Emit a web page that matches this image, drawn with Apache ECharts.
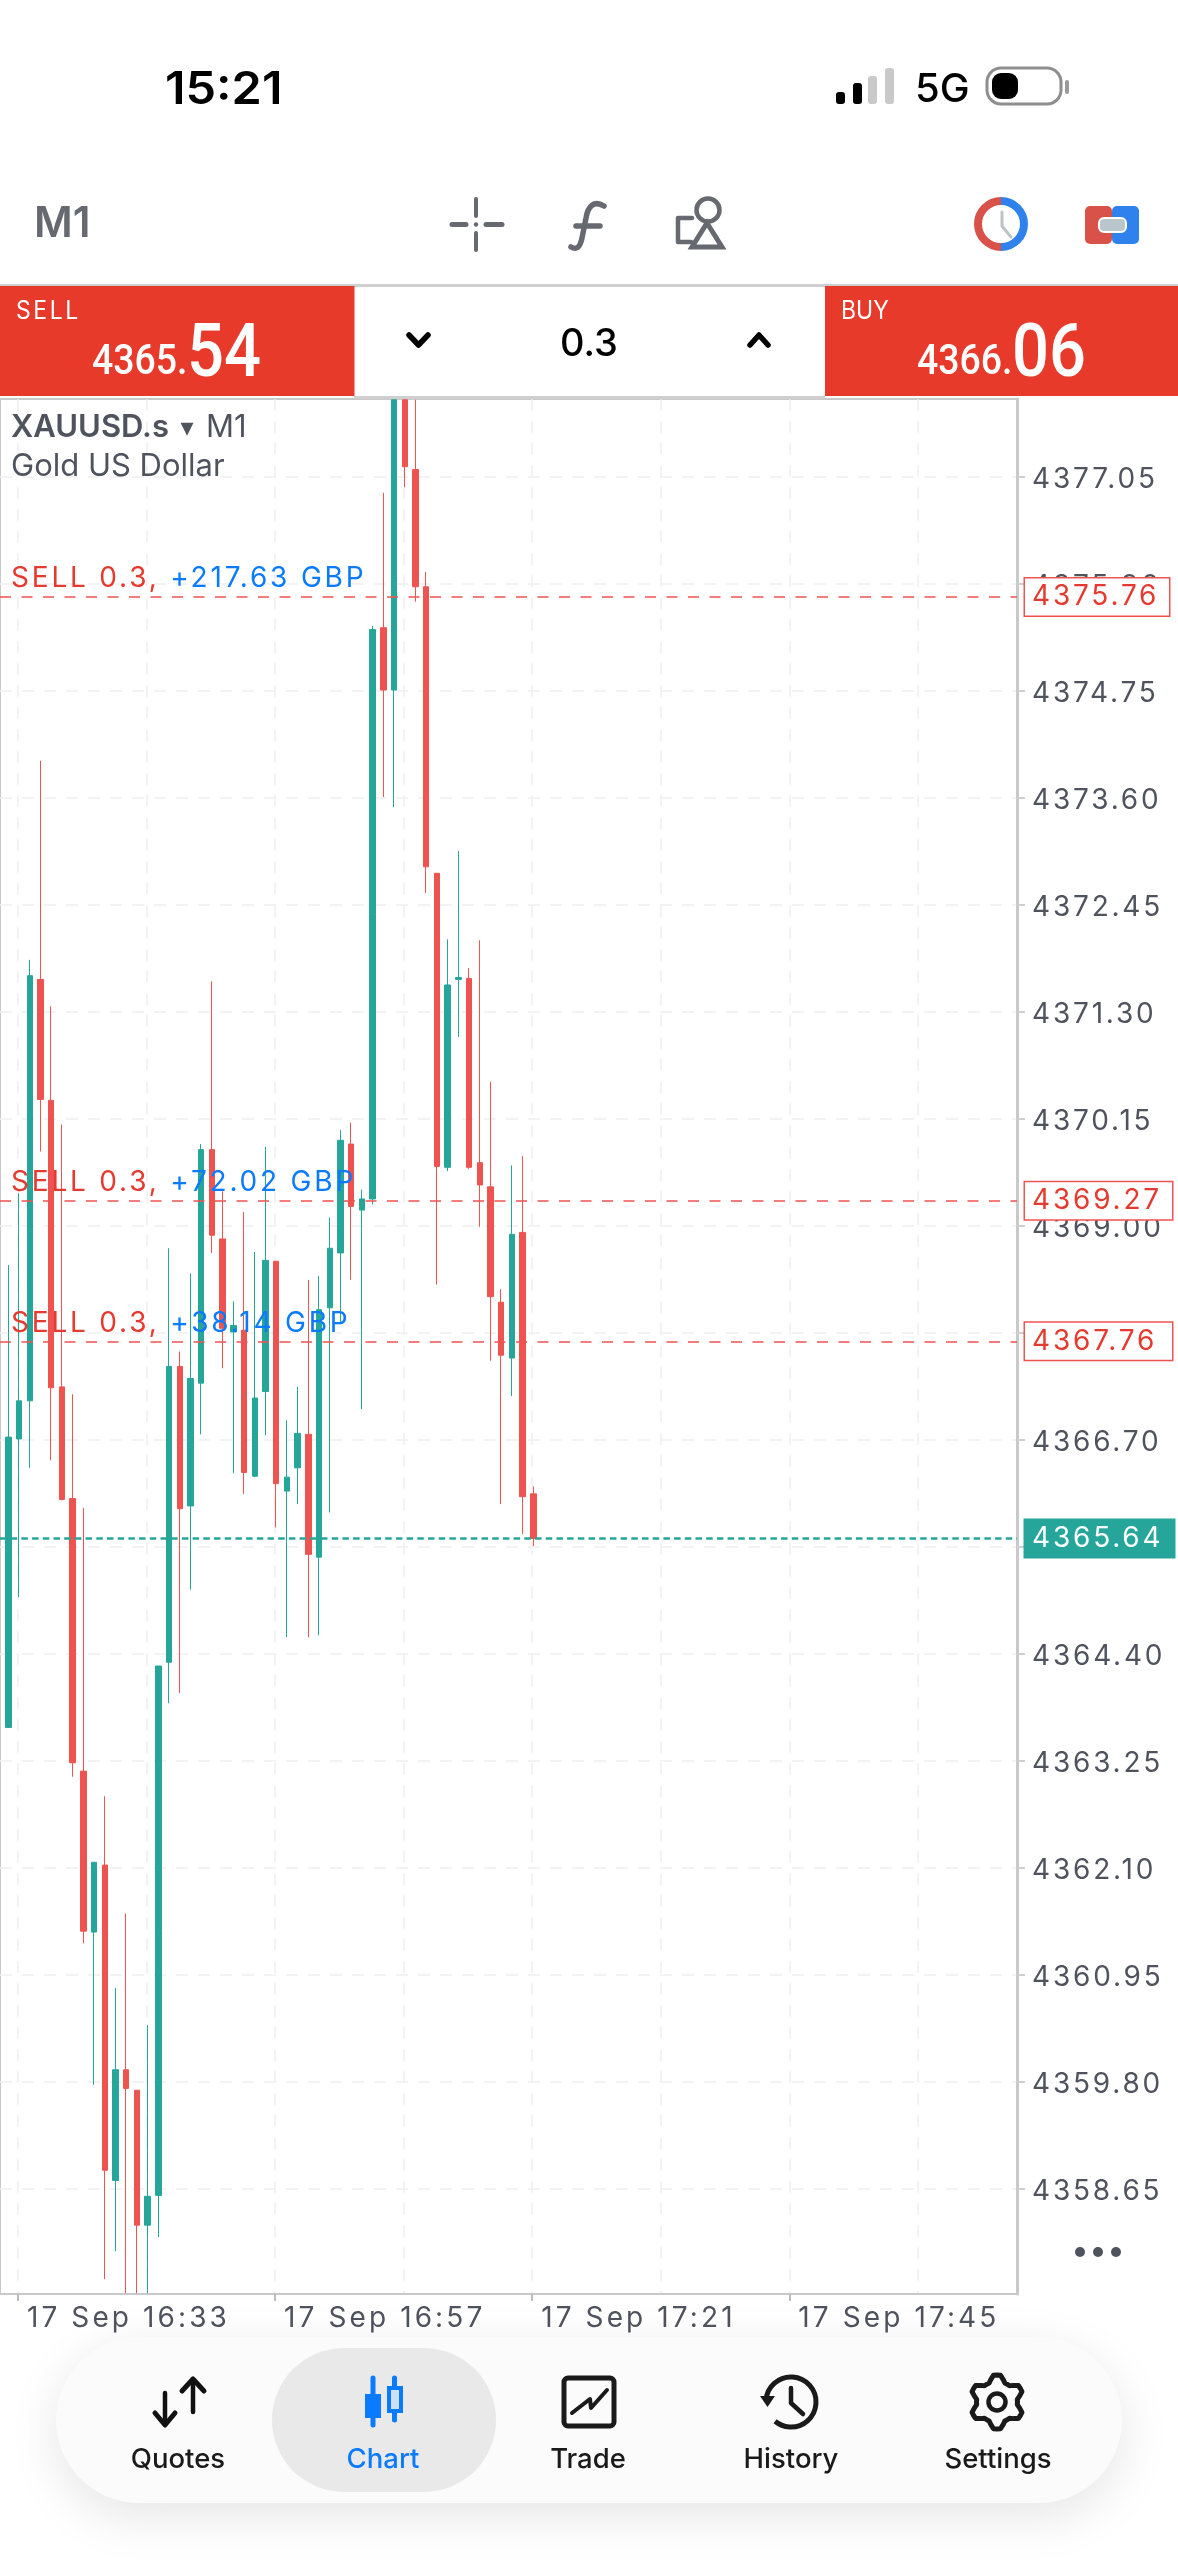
<!DOCTYPE html>
<html><head><meta charset="utf-8">
<style>html,body{margin:0;padding:0;background:#fff}#c{width:1178px;height:2560px}</style>
<script src="https://cdn.jsdelivr.net/npm/echarts@6/dist/echarts.min.js"></script>
</head><body><div id="c"></div>
<script>
// ---- data (marks cut by the plot edge are held at the edge value) ----
const firstMinute = 992; // 16:32, minutes of the day
const opens  = [4363.61,4366.71,4367.12,4371.65,4370.35,4367.27,4366.07,4363.14,4361.41,4362.13,4358.74,4359.93,4359.71,4358.26,4358.58,4364.31,4367.49,4365.99,4367.31,4369.82,4368.86,4367.86,4367.88,4366.31,4367.22,4368.62,4366.15,4366.40,4366.76,4365.44,4368.12,4368.71,4369.88,4369.17,4369.29,4375.43,4374.76,4377.88,4377.13,4375.87,4372.79,4369.63,4371.65,4371.66,4369.68,4369.42,4368.18,4367.58,4368.93,4366.12];
const closes = [4366.73,4367.12,4371.69,4370.36,4367.26,4366.06,4363.23,4361.42,4362.16,4358.85,4359.93,4359.73,4358.26,4358.57,4364.27,4367.49,4365.96,4367.36,4369.82,4368.90,4367.90,4367.93,4366.35,4367.15,4368.63,4366.23,4366.30,4366.77,4365.47,4368.10,4368.76,4369.92,4369.21,4369.29,4375.41,4374.76,4377.88,4377.16,4375.87,4372.86,4369.64,4371.59,4371.67,4369.63,4369.44,4368.24,4367.61,4368.91,4366.09,4365.64];
const lows   = [4363.61,4365.01,4366.40,4369.80,4366.48,4366.05,4363.08,4361.29,4359.77,4357.68,4357.98,4357.53,4357.53,4357.53,4358.13,4363.87,4363.98,4365.09,4366.76,4368.71,4367.47,4366.34,4366.12,4366.30,4366.75,4365.76,4364.58,4366.01,4364.58,4364.60,4365.92,4367.97,4368.42,4367.03,4369.23,4373.61,4373.50,4376.94,4375.71,4372.58,4368.37,4369.59,4371.03,4369.61,4368.99,4367.55,4366.01,4367.17,4365.69,4365.56];
const highs  = [4368.58,4369.35,4371.86,4374.00,4371.36,4370.09,4367.19,4365.97,4362.16,4362.87,4360.81,4361.61,4359.71,4360.41,4364.27,4368.76,4367.65,4368.49,4369.88,4371.63,4369.37,4368.19,4369.15,4368.72,4369.85,4368.62,4366.91,4367.27,4368.42,4368.46,4369.09,4370.03,4370.11,4369.39,4375.45,4376.88,4377.88,4377.88,4377.88,4376.03,4372.79,4372.08,4373.03,4371.77,4372.07,4370.55,4368.32,4369.65,4369.75,4366.20];
const priceTicks = [4358.65,4359.80,4360.95,4362.10,4363.25,4364.40,4365.55,4366.70,4367.85,4369.00,4370.15,4371.30,4372.45,4373.60,4374.75,4375.90,4377.05];
const timeTickMinutes = [993,1017,1041,1065];
const timeTickLabels = ['17 Sep 16:33','17 Sep 16:57','17 Sep 17:21','17 Sep 17:45'];
const gridMinutes = [993,1005,1017,1029,1041,1053,1065,1077];
const orderPrices = [4375.76,4369.27,4367.76];
const orderLabels = ['SELL 0.3, ','SELL 0.3, ','SELL 0.3, '];
const orderProfits = ['+217.63 GBP','+72.02 GBP','+38.14 GBP'];
const lastPrice = 4365.64;
const navItems = ['Quotes','Chart','Trade','History','Settings'];

// letter-spaced chart texts (the app's labels are tracked out)
const track = t => /^17 Sep/.test(t) ? '3.1px' : /^(\d{4}\.\d\d|SELL.*|\+.*)$/.test(t) ? '2.8px' : '0px';
const P = CanvasRenderingContext2D.prototype, fT = P.fillText, mT = P.measureText;
P.fillText = function(t,x,y,m){ this.letterSpacing = track(t); return m===undefined?fT.call(this,t,x,y):fT.call(this,t,x,y,m); };
P.measureText = function(t){ this.letterSpacing = track(t); return mT.call(this,t); };

const TEAL='#26a69a', RED='#ef5350', ORDER='#e53a30', BLUE='#0a7aff', GREY='#666a70', TXT='#4f535e', HDR='#e83a2a';
const chart = echarts.init(document.getElementById('c'),null,{renderer:'canvas',width:1178,height:2560});
const L=0,T=399,W=1017,H=1895;
const candles = opens.map((o,i)=>[firstMinute+i,o,closes[i],lows[i],highs[i]]);
const AXLINE='#c9c9c9', SPLIT='#f0f0f0';

function tx(text,x,y,size,fill,o){o=o||{};return {type:'text',x,y,z:o.z||50,scaleX:o.sx||1,style:{text,font:(o.w||400)+' '+size+'px '+(o.f||'Inter'),fill,textAlign:o.a||'left',textVerticalAlign:'middle',align:o.a||'left',verticalAlign:'middle'}};}
function rr(x,y,w,h,r,fill,o){o=o||{};return {type:'rect',z:o.z||40,shape:{x,y,width:w,height:h,r},style:Object.assign({fill},o.style||{})};}
function pl(points,stroke,lw,z){return {type:'polyline',z:z||50,shape:{points},style:{stroke,lineWidth:lw,fill:'none',lineCap:'round',lineJoin:'round'}};}

const gear=[];(function(){const cx=997,cy=2402;for(let i=0;i<48;i++){const a=i/48*Math.PI*2-Math.PI/2,ph=(i%8);const r=(ph<=1||ph===7)?27:(ph===2||ph===6)?23.5:20.5;gear.push([cx+r*Math.cos(a),cy+r*Math.sin(a)]);}})();

const chrome=[
 // status bar
 tx('15:21',165,90,45,'#000',{w:600,sx:1.08}),
 rr(836,92,9,12,3,'#000'),rr(853,83,9,21,3,'#000'),rr(868,76,9,28,3,'#c9c9c9'),rr(885,68,9,36,3,'#c9c9c9'),
 tx('5G',915,90,40,'#000',{w:500}),
 {type:'rect',z:40,shape:{x:987,y:68,width:74,height:36,r:14},style:{fill:'#fff',stroke:'#8e8e8e',lineWidth:3}},
 rr(992,73,26,26,9,'#000'),rr(1065,80,4,14,2,'#9a9a9a'),
 // toolbar
 tx('M1',34,224,42,GREY,{w:600}),
 pl([[476,199],[476,216]],GREY,4),pl([[476,233],[476,250]],GREY,4),pl([[452,224.5],[466,224.5]],GREY,5),pl([[486,224.5],[502,224.5]],GREY,5),
 {type:'circle',z:50,shape:{cx:476,cy:224.5,r:2.2},style:{fill:GREY}},
 {type:'ficon',z:50,style:{fill:'none',stroke:GREY,lineWidth:5.5,lineCap:'round'}},
 {type:'circle',z:50,shape:{cx:708,cy:210,r:11.5},style:{fill:'none',stroke:GREY,lineWidth:4.5}},
 {type:'polygon',z:50,shape:{points:[[707,223],[722,247],[692,247]]},style:{fill:'none',stroke:GREY,lineWidth:5,lineJoin:'miter'}},
 pl([[692,218],[678,218],[678,242],[691,242]],GREY,4.5),
 {type:'arc',z:50,shape:{cx:1001,cy:224,r:23,startAngle:Math.PI/2,endAngle:Math.PI*1.5},style:{fill:'none',stroke:'#d9524a',lineWidth:8}},
 {type:'arc',z:50,shape:{cx:1001,cy:224,r:23,startAngle:-Math.PI/2,endAngle:Math.PI/2},style:{fill:'none',stroke:'#2f82ee',lineWidth:8}},
 pl([[1002,212],[1002,226],[1011,237]],'#bcc4c6',3),
 rr(1085,206,27,38,5,'#d9524a'),rr(1112,206,27,38,5,'#2f82ee'),
 {type:'rect',z:50,shape:{x:1099,y:218,width:27,height:14,r:5},style:{fill:'#b9c6cb',stroke:'#fff',lineWidth:2}},
 // price bar
 rr(0,284,1178,3,0,'#cfcfcf'),rr(354,396,471,3,0,'#cfcfcf'),
 rr(0,286,354.5,110,0,HDR),rr(825,286,353,110,0,HDR),
 tx('SELL',16,311,25,'#fff',{sx:.92}),
 tx('4365.',92,363,43,'#fff',{f:'Roboto',w:500,sx:.87}),
 tx('54',187,357,74,'#fff',{f:'Roboto',w:500,sx:.88}),
 tx('BUY',841,311,25,'#fff',{sx:.92}),
 tx('4366.',917,363,43,'#fff',{f:'Roboto',w:500,sx:.87}),
 tx('06',1012,357,74,'#fff',{f:'Roboto',w:500,sx:.88}),
 pl([[409,335],[418.5,345],[428,335]],'#000',5.5),pl([[750,345],[759,335],[768,345]],'#000',5.5),
 tx('0.3',589,345,38,'#000',{a:'center',w:500}),
 // symbol header
 tx('XAUUSD.s',11,428,31,TXT,{w:600}),tx('▾',187,429,26,TXT,{a:'center',f:'DejaVu Sans'}),tx('M1',206,428,31,TXT),
 tx('Gold US Dollar',11,467,31,TXT),
 {type:'circle',z:50,shape:{cx:1080,cy:2252,r:5},style:{fill:TXT}},{type:'circle',z:50,shape:{cx:1098,cy:2252,r:5},style:{fill:TXT}},{type:'circle',z:50,shape:{cx:1116,cy:2252,r:5},style:{fill:TXT}},
 // nav
 {type:'rect',z:30,shape:{x:56,y:2337,width:1066,height:166,r:83},style:{fill:'#fbfbfb',shadowBlur:50,shadowColor:'rgba(0,0,0,0.10)',shadowOffsetY:14}},
 rr(272,2348,224,144,72,'#e9e9e9'),
 pl([[165,2393],[165,2424]],'#111',4.5),pl([[155,2413],[165,2425],[175,2413]],'#111',5),
 pl([[193,2412],[193,2381]],'#111',4.5),pl([[182,2391],[193,2379],[204,2391]],'#111',5),
 pl([[373,2378],[373,2425]],BLUE,5,50),rr(365,2394,16,24,0,BLUE,{z:51}),
 pl([[394.5,2378],[394.5,2420]],BLUE,5,50),{type:'rect',z:51,shape:{x:389,y:2388,width:12,height:23},style:{fill:'#cfdff5',stroke:BLUE,lineWidth:4}},
 {type:'rect',z:50,shape:{x:564,y:2378,width:50,height:48,r:4},style:{fill:'none',stroke:'#1a1a1a',lineWidth:5}},
 pl([[572,2413],[590,2399],[591,2408],[607,2390]],'#1a1a1a',4),
 {type:'arc',z:50,shape:{cx:791,cy:2402,r:25,startAngle:-Math.PI*0.98,endAngle:Math.PI*0.72},style:{fill:'none',stroke:'#1a1a1a',lineWidth:5}},
 {type:'polygon',z:50,shape:{points:[[760,2396],[775,2396],[767.5,2407]]},style:{fill:'#1a1a1a'}},
 pl([[791,2388],[791,2403],[803,2414]],'#1a1a1a',4.5),
 {type:'polygon',z:50,shape:{points:gear},style:{fill:'none',stroke:'#1a1a1a',lineWidth:5,lineJoin:'round'}},
 {type:'circle',z:50,shape:{cx:997,cy:2402,r:8.5},style:{fill:'none',stroke:'#1a1a1a',lineWidth:4.5}},
 tx(navItems[0],178,2460,27.5,'#1a1a1a',{a:'center',w:500}),tx(navItems[1],383,2460,27.5,BLUE,{a:'center',w:500}),
 tx(navItems[2],588,2460,27.5,'#1a1a1a',{a:'center',w:500}),tx(navItems[3],791,2460,27.5,'#1a1a1a',{a:'center',w:500}),
 tx(navItems[4],998,2460,27.5,'#1a1a1a',{a:'center',w:500}),
];
echarts.graphic.registerShape('ficon',echarts.graphic.extendPath('M604 206C594 200 588 206 586 218L582 238C580 248 576 250 571 247M576 226L600 226',{}));

const boxLabel=(color,bg,border,w)=>({show:true,position:'end',distance:8,formatter:p=>p.value.toFixed(2),fontSize:28,fontFamily:'Inter',color,backgroundColor:bg,borderColor:border,borderWidth:1.5,width:w,overflow:'none',align:'left',padding:[5,2,3,7],lineHeight:29});
const boxWidths=[135,138,138];
const option={
 animation:false,backgroundColor:'#ffffff',
 grid:{left:L,top:T,width:W,height:H,show:true,borderColor:AXLINE,borderWidth:2,backgroundColor:'#fff',containLabel:false},
 xAxis:[
  {type:'value',position:'bottom',min:31.217+960,max:126.14+960,show:false},
  {type:'value',position:'bottom',min:31.329+960,max:126.25+960,axisLine:{show:false},axisLabel:{show:false},
   axisTick:{show:false,customValues:gridMinutes},splitLine:{show:true,lineStyle:{color:SPLIT,type:[12,10],width:1.5}}},
  {type:'value',position:'bottom',min:31.329+960,max:126.25+960,axisLine:{show:true,lineStyle:{color:AXLINE,width:2}},splitLine:{show:false},
   axisTick:{show:true,length:7,inside:false,lineStyle:{color:'#bdbdbd',width:2},customValues:timeTickMinutes},
   axisLabel:{show:true,customValues:timeTickMinutes,align:'left',margin:11,padding:[0,0,0,9],fontFamily:'Inter',fontSize:28,color:TXT,
     formatter:v=>timeTickLabels[timeTickMinutes.indexOf(v)]||''}}
 ],
 yAxis:{type:'value',position:'right',min:4357.52,max:4377.888,scale:true,
  axisLine:{show:true,lineStyle:{color:AXLINE,width:3}},
  axisTick:{show:true,length:8,lineStyle:{color:'#cfcfcf',width:2},customValues:priceTicks},
  splitLine:{show:true,lineStyle:{color:SPLIT,type:[12,10],width:1.5}},
  axisLabel:{show:true,customValues:priceTicks,margin:15,verticalAlign:'top',lineHeight:6,fontFamily:'Inter',fontSize:28,color:TXT,formatter:v=>v.toFixed(2)}},
 series:[{type:'candlestick',xAxisIndex:0,yAxisIndex:0,barWidth:6,clip:true,encode:{x:0,y:[1,2,3,4]},data:candles,
  itemStyle:{color:TEAL,color0:RED,borderColor:TEAL,borderColor0:RED,borderWidth:1},
  markLine:{silent:true,symbol:'none',precision:2,animation:false,
   data:orderPrices.map((p,i)=>({yAxis:p,lineStyle:{color:RED,type:[11,10.5],width:1.5},label:boxLabel(ORDER,'#fff',RED,boxWidths[i])})).concat([
    {yAxis:lastPrice,lineStyle:{color:TEAL,type:[6.5,4.2],width:2.5},label:boxLabel('#fff',TEAL,TEAL,140)}])}
 }],
 graphic:{elements:chrome}
};
chart.setOption(option);
const orderTexts=orderPrices.map((p,i)=>{const y=chart.convertToPixel({yAxisIndex:0},p);
 return {type:'text',x:11,y:y-18,z:60,style:{text:'{a|'+orderLabels[i]+'}{b|'+orderProfits[i]+'}',textVerticalAlign:'middle',verticalAlign:'middle',
  rich:{a:{fontFamily:'Inter',fontSize:28,fill:ORDER,color:ORDER},b:{fontFamily:'Inter',fontSize:28,fill:BLUE,color:BLUE}}}};});
chart.setOption({graphic:{elements:chrome.concat(orderTexts)}},{replaceMerge:['graphic']});
</script></body></html>
